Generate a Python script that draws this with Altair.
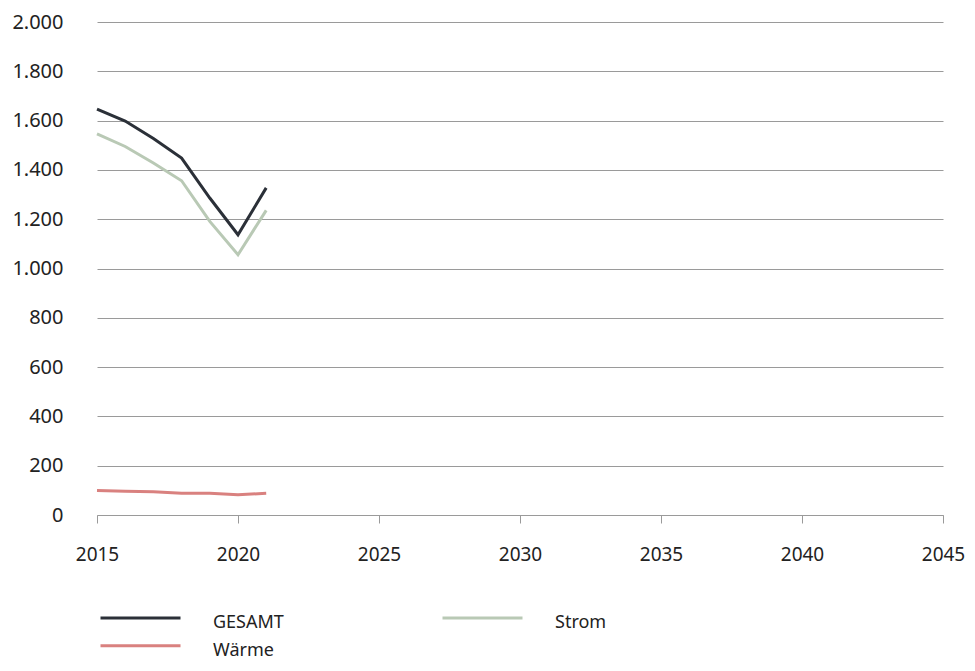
import altair as alt
import pandas as pd

years = [2015, 2016, 2017, 2018, 2019, 2020, 2021]
gesamt = [1647, 1598, 1527, 1448, 1286, 1137, 1327]
strom = [1546, 1495, 1428, 1356, 1191, 1056, 1236]
waerme = [99, 96, 94, 88, 88, 82, 88]

series_names = ["GESAMT", "Wärme", "Strom"]
series_colors = ["#2b3038", "#d9817f", "#b9c9b5"]

rows = []
for name, vals in [("GESAMT", gesamt), ("Strom", strom), ("Wärme", waerme)]:
    for y, v in zip(years, vals):
        rows.append({"Jahr": y, "Wert": v, "Reihe": name})
df = pd.DataFrame(rows)

FONT = "Noto Sans"

chart = alt.Chart(df).mark_line(strokeWidth=3).encode(
    x=alt.X("Jahr:Q",
            scale=alt.Scale(domain=[2015, 2045], nice=False, zero=False),
            axis=alt.Axis(values=[2015, 2020, 2025, 2030, 2035, 2040, 2045],
                          format="d", title=None, grid=False, labelFlush=False,
                          domainColor="#9a9a9a", tickColor="#9a9a9a",
                          tickSize=8, labelPadding=22,
                          labelFont=FONT, labelFontSize=19, labelColor="#222222")),
    y=alt.Y("Wert:Q",
            scale=alt.Scale(domain=[0, 2000], nice=False),
            axis=alt.Axis(values=list(range(0, 2001, 200)), title=None,
                          domain=False, ticks=False, labelPadding=34,
                          gridColor="#9a9a9a", gridWidth=1,
                          labelExpr="replace(format(datum.value, ','), ',', '.')",
                          labelFont=FONT, labelFontSize=20, labelColor="#222222")),
    color=alt.Color("Reihe:N",
                    scale=alt.Scale(domain=series_names, range=series_colors),
                    legend=alt.Legend(title=None, orient="none", legendX=2, legendY=591,
                                      values=series_names,
                                      columns=2, columnPadding=152, rowPadding=7,
                                      symbolType="M-1,-0.6H9", symbolSize=256,
                                      symbolStrokeWidth=3, labelOffset=95,
                                      labelFont=FONT, labelFontSize=18,
                                      labelColor="#222222")),
).properties(
    width=846, height=493,
    padding={"left": 3, "top": 4, "right": 0, "bottom": 0},
).configure_view(stroke=None)

chart.save("out.html", embed_options={"renderer": "svg", "actions": False})
